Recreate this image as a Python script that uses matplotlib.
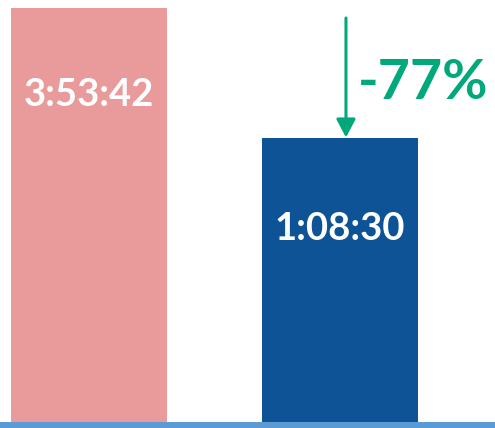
import matplotlib.pyplot as plt

# Data (bar heights in relative units, labels as shown)
categories = ["Before", "After"]
bar_heights = [414, 284.5]
bar_labels = ["3:53:42", "1:08:30"]
change_label = "-77%"

# Style
bar_colors = ["#E99A9A", "#0E5396"]
green = "#00A87A"
base_color = "#5B9BD5"
font = ["Lato", "DejaVu Sans"]

fig = plt.figure(figsize=(4.95, 4.28), dpi=100)
ax = fig.add_axes([0, 0, 1, 1])
xs = list(range(len(categories)))
ax.bar(xs, bar_heights, width=0.62, color=bar_colors, zorder=2)
ax.axhline(-3, color=base_color, lw=4.3, zorder=3)

# Value labels inside the bars
label_pos = [0.79, 0.68]
for x, h, lab, f in zip(xs, bar_heights, bar_labels, label_pos):
    ax.text(x, h * f, lab, ha="center", va="center", color="white",
            fontsize=27.5, fontweight="bold", family=font, zorder=4)

# Arrow and percentage change
arrow_x = xs[1] + 0.024
ax.annotate("", xy=(arrow_x, bar_heights[1]), xytext=(arrow_x, 404),
            arrowprops=dict(arrowstyle="-|>,head_length=1.1,head_width=0.58",
                            mutation_scale=10, lw=2.2, color=green,
                            shrinkA=0, shrinkB=0), zorder=5)
ax.text(xs[1] + 0.331, 339, change_label, ha="center", va="center",
        color=green, fontsize=40, fontweight="bold", family=font)

ax.set_xlim(-0.355, 1.618)
ax.set_ylim(-6, 422)
ax.axis("off")
fig.savefig("out.png", dpi=100)
